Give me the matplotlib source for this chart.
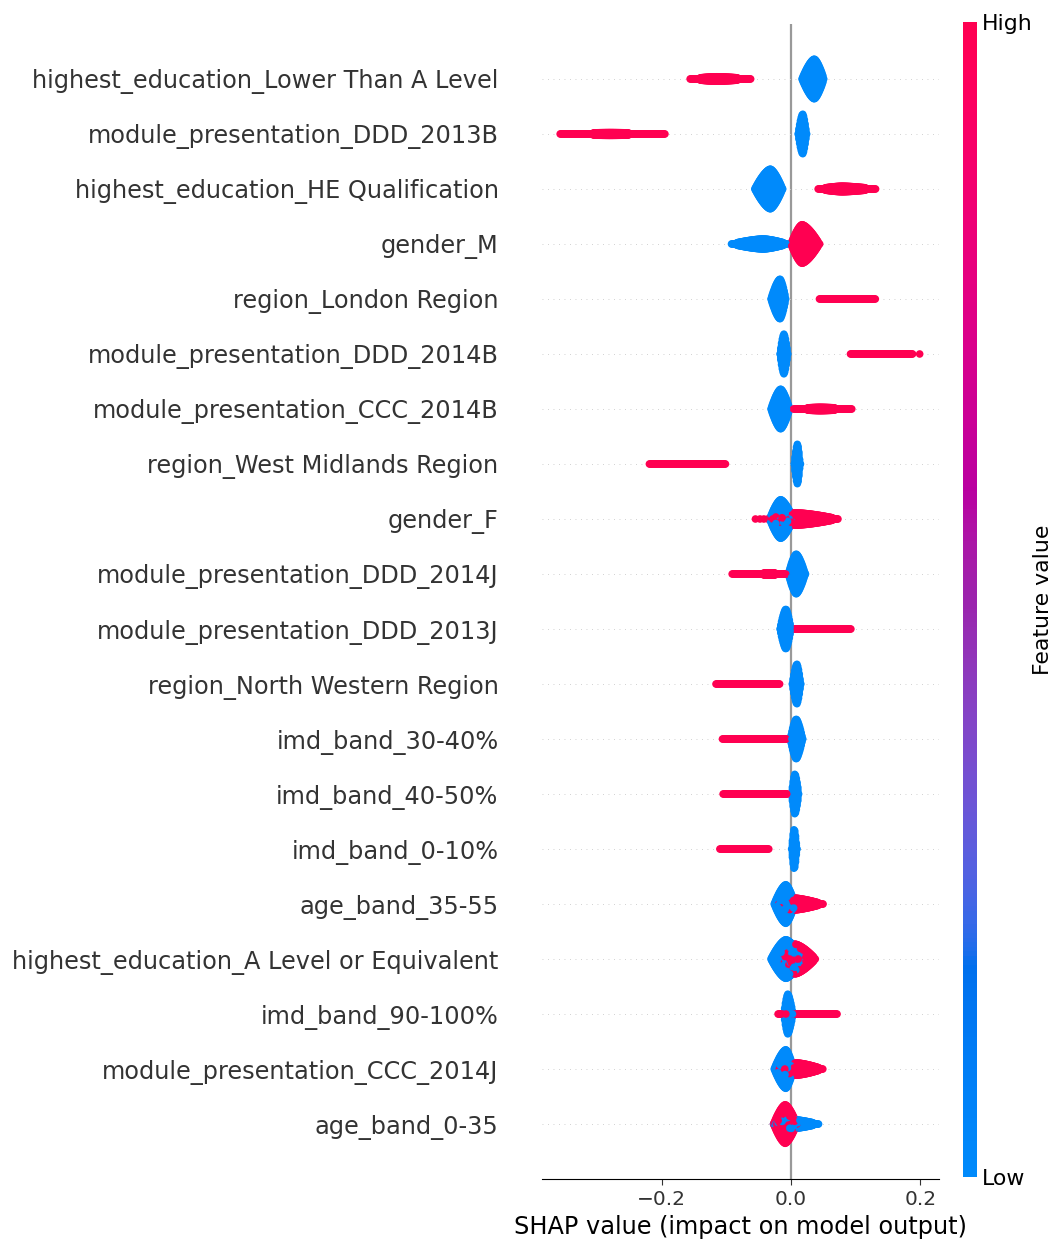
import numpy as np
import matplotlib
matplotlib.use("Agg")
import matplotlib.pyplot as plt
from matplotlib.colors import LinearSegmentedColormap
from matplotlib.cm import ScalarMappable

# feature names, top row first
features = [
    "highest_education_Lower Than A Level",
    "module_presentation_DDD_2013B",
    "highest_education_HE Qualification",
    "gender_M",
    "region_London Region",
    "module_presentation_DDD_2014B",
    "module_presentation_CCC_2014B",
    "region_West Midlands Region",
    "gender_F",
    "module_presentation_DDD_2014J",
    "module_presentation_DDD_2013J",
    "region_North Western Region",
    "imd_band_30-40%",
    "imd_band_40-50%",
    "imd_band_0-10%",
    "age_band_35-55",
    "highest_education_A Level or Equivalent",
    "imd_band_90-100%",
    "module_presentation_CCC_2014J",
    "age_band_0-35",
]

# SHAP values of the rows where the feature is 0 (blue): left end, densest value, right end, swarm half height
low_left = [0.017, 0.011, -0.056, -0.092, -0.031, -0.017, -0.031, 0.005, -0.033, -0.004,
            -0.017, 0.002, -0.001, 0.001, 0.001, -0.026, -0.031, -0.011, -0.026, -0.027]
low_peak = [0.036, 0.018, -0.032, -0.043, -0.017, -0.011, -0.016, 0.010, -0.016, 0.008,
            -0.008, 0.009, 0.008, 0.006, 0.005, -0.008, -0.008, -0.005, -0.008, 0.002]
low_right = [0.051, 0.024, -0.013, -0.005, -0.008, -0.005, -0.002, 0.014, 0.004, 0.022,
             0.000, 0.015, 0.018, 0.012, 0.009, 0.006, 0.019, 0.003, 0.004, 0.042]
low_half = [0.36, 0.36, 0.36, 0.09, 0.36, 0.36, 0.36, 0.36, 0.35, 0.36,
            0.36, 0.36, 0.36, 0.36, 0.36, 0.35, 0.35, 0.36, 0.35, 0.08]

# same for the rows where the feature is 1 (red)
high_left = [-0.156, -0.357, 0.042, 0.000, 0.044, 0.092, 0.004, -0.219, -0.033, -0.091,
             0.005, -0.116, -0.106, -0.105, -0.110, -0.020, -0.014, -0.020, -0.018, -0.027]
high_peak = [-0.115, -0.280, 0.079, 0.017, 0.083, 0.140, 0.045, -0.160, 0.008, -0.030,
             0.040, -0.060, -0.050, -0.050, -0.070, 0.002, 0.006, 0.030, 0.008, -0.009]
high_right = [-0.063, -0.195, 0.131, 0.044, 0.130, 0.188, 0.094, -0.101, 0.073, -0.005,
              0.093, -0.018, -0.005, -0.005, -0.034, 0.049, 0.038, 0.071, 0.049, 0.009]
high_half = [0.04, 0.025, 0.05, 0.35, 0.015, 0.015, 0.03, 0.012, 0.11, 0.022,
             0.015, 0.015, 0.012, 0.012, 0.012, 0.11, 0.27, 0.02, 0.11, 0.35]

# a few isolated points
outlier_row = [5, 8, 8, 8, 8]
outlier_shap = [0.199, -0.055, -0.048, -0.042, -0.036]
outlier_value = [1, 1, 1, 1, 1]


def lch2rgb(l, c, h):
    a = c * np.cos(h)
    b = c * np.sin(h)
    fy = (l + 16) / 116
    fx = fy + a / 500
    fz = fy - b / 200
    def finv(t):
        return t ** 3 if t > 6 / 29 else 3 * (6 / 29) ** 2 * (t - 4 / 29)
    X, Y, Z = 0.95047 * finv(fx), finv(fy), 1.08883 * finv(fz)
    rgb = np.array([3.2406 * X - 1.5372 * Y - 0.4986 * Z,
                    -0.9689 * X + 1.8758 * Y + 0.0415 * Z,
                    0.0557 * X - 0.2040 * Y + 1.0570 * Z])
    rgb = np.where(rgb > 0.0031308, 1.055 * np.abs(rgb) ** (1 / 2.4) - 0.055, 12.92 * rgb)
    return np.clip(rgb, 0, 1)


# shap's red_blue colormap
nsteps = 100
l_vals = list(np.linspace(54., 40., nsteps // 2)) + list(np.linspace(40., 54., nsteps // 2))
c_vals = np.linspace(70., 90., nsteps)
h_vals = np.linspace(4.6588, 0.35470565 + 2 * np.pi, nsteps)
cols = [lch2rgb(l, c, h) for l, c, h in zip(l_vals, c_vals, h_vals)]
cols[0] = np.array([0.0, 0.5411764705882353, 0.9842519685039371])
cols[-1] = np.array([1.0, 0.0, 0.3176470588235294])
red_blue = LinearSegmentedColormap.from_list("red_blue", cols)


def swarm(left, peak, right, half, dx=0.0012, dy=0.04):
    # fill the outline of a cluster with dots, one column per dx
    px, py = [], []
    xs = np.arange(left, right + dx / 2, dx)
    for x in xs:
        if x < peak:
            t = (peak - x) / (peak - left) if peak > left else 0.0
        else:
            t = (x - peak) / (right - peak) if right > peak else 0.0
        h = half * (1 - min(t, 1.0) ** 1.5)
        m = int(2 * h / dy) + 1
        ys = np.linspace(-h, h, m) if m > 1 else np.zeros(1)
        px += [x] * len(ys)
        py += list(ys)
    return np.array(px), np.array(py)


fig = plt.figure(figsize=(10.52, 12.42), dpi=100)
ax = fig.add_axes([0.5149, 0.0507, 0.378, 0.930])
n = len(features)

ax.axvline(0, color="#999999", lw=1.6, zorder=-1)
for i in range(n):
    pos = n - 1 - i
    ax.axhline(pos, color="#cccccc", lw=0.66, dashes=(1, 5), zorder=-1)
    lx, ly = swarm(low_left[i], low_peak[i], low_right[i], low_half[i])
    hx, hy = swarm(high_left[i], high_peak[i], high_right[i], high_half[i])
    xs = np.concatenate([lx, hx])
    ys = np.concatenate([ly, hy])
    cs = np.concatenate([np.zeros(len(lx)), np.ones(len(hx))])
    for r, s, v in zip(outlier_row, outlier_shap, outlier_value):
        if r == i:
            xs = np.append(xs, s)
            ys = np.append(ys, 0.0)
            cs = np.append(cs, v)
    order = np.argsort((np.arange(len(xs)) * 0.6180339887) % 1.0)
    ax.scatter(xs[order], pos + ys[order], c=cs[order], cmap=red_blue, vmin=0, vmax=1,
               s=30, linewidths=0, alpha=1, rasterized=True, zorder=3)

ax.set_xlim(-0.3856, 0.2294)
ax.set_ylim(-1, n)
ax.set_yticks(range(n))
ax.set_yticklabels(features[::-1], fontsize=17.3)
ax.set_xticks([-0.2, 0.0, 0.2])
ax.tick_params(axis="x", labelsize=14.5, color="#333333", labelcolor="#333333", length=4.6)
ax.tick_params(axis="y", length=0, pad=31, labelcolor="#333333")
ax.set_xlabel("SHAP value (impact on model output)", fontsize=17.3)
for side in ["top", "right", "left"]:
    ax.spines[side].set_visible(False)

cax = fig.add_axes([0.9151, 0.0523, 0.0139, 0.930])
cb = fig.colorbar(ScalarMappable(cmap=red_blue), cax=cax, ticks=[0, 1])
cb.set_ticklabels(["Low", "High"])
cb.ax.tick_params(labelsize=15.8, length=0)
cb.set_label("Feature value", size=15.8, labelpad=0)
cb.outline.set_visible(False)

fig.savefig("out.png", dpi=100)
